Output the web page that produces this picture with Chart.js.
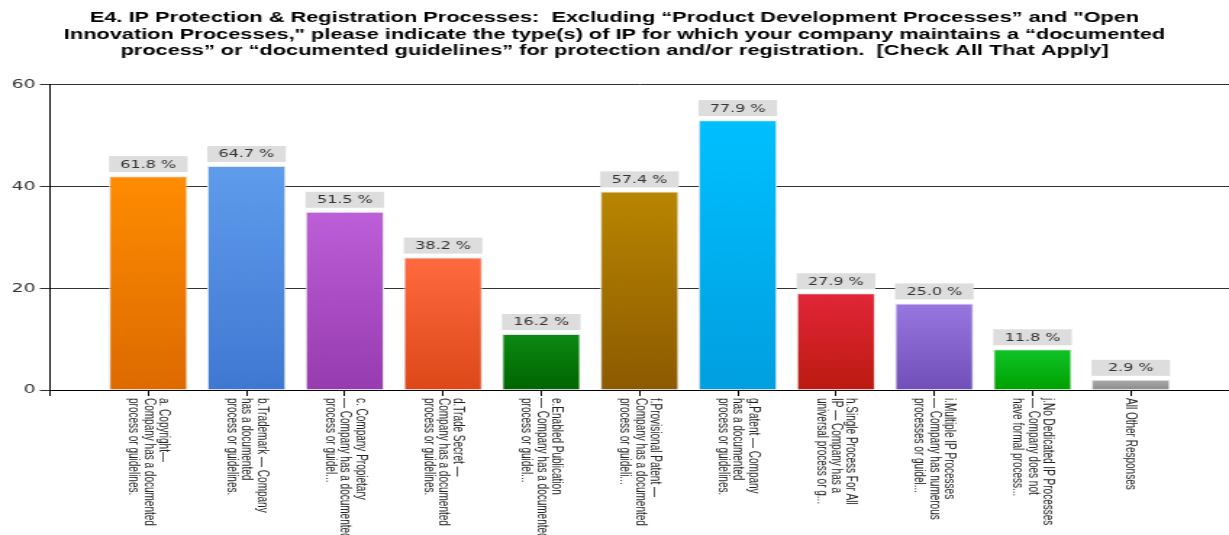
<!DOCTYPE html>
<html lang="en">
<head>
    <meta charset="UTF-8" />
    <title>E4. IP Protection &amp; Registration Processes</title>
    <script src="https://cdn.jsdelivr.net/npm/chart.js"></script>
    <style>
        html, body {
            margin: 0;
            padding: 0;
            background: #ffffff;
            overflow: hidden;
        }
        /* chart is laid out narrow, then widened to fill the page */
        #chart-container {
            width: 848px;
            height: 535px;
            position: relative;
            transform: scaleX(1.4493);
            transform-origin: 0 0;
        }
    </style>
</head>
<body>

<div id="chart-container">
    <canvas id="ipChart"></canvas>
</div>

<script>
// Survey question text (three lines, as shown above the plot)
const titleLines = [
    'E4. IP Protection & Registration Processes:  Excluding \u201cProduct Development Processes\u201d and "Open',
    'Innovation Processes," please indicate the type(s) of IP for which your company maintains a \u201cdocumented',
    'process\u201d or \u201cdocumented guidelines\u201d for protection and/or registration.  [Check All That Apply]'
];

// Answer options (each entry is the wrapped label lines)
const categories = [
    ['a. Copyright\u2014', 'Company has a documented', 'process or guidelines.'],
    ['b.Trademark \u2014 Company', 'has a documented', 'process or guidelines.'],
    ['c. Company Propietary', '\u2014 Company has a documented', 'process or guidel...'],
    ['d.Trade Secret \u2014', 'Company has a documented', 'process or guidelines.'],
    ['e.Enabled Publication', '\u2014 Company has a documented', 'process or guidel...'],
    ['f.Provisional Patent \u2014', 'Company has a documented', 'process or guideli...'],
    ['g.Patent \u2014 Company', 'has a documented', 'process or guidelines.'],
    ['h.Single Process For All', 'IP \u2014 Company has a', 'universal process or g...'],
    ['i.Multiple IP Processes', '\u2014 Company has numerous', 'processes or guidel...'],
    ['j.No Dedicated IP Processes', '\u2014 Company does not', 'have formal process...'],
    ['All Other Responses']
];

// Number of respondents choosing each option
const counts = [42, 44, 35, 26, 11, 39, 53, 19, 17, 8, 2];
const respondents = 68;

// Bar gradients: [top colour, bottom colour]
const barColors = [
    ['#ff8c00', '#dc6a00'],
    ['#5f9cec', '#3f78d2'],
    ['#bd5fd8', '#973bb0'],
    ['#ff6a40', '#dc4818'],
    ['#0c8a14', '#006400'],
    ['#b98600', '#8c5a00'],
    ['#00c0ff', '#009fe0'],
    ['#e22638', '#bc1a10'],
    ['#9878e0', '#7050b8'],
    ['#10c428', '#00a000'],
    ['#ababab', '#8c8c8c']
];

const yTicks = [0, 20, 40, 60];

const wideFont = '"DejaVu Sans", Verdana, sans-serif';
const plainFont = 'Arial, "Liberation Sans", sans-serif';

// Percent labels above each bar, in grey boxes
const valueBoxes = {
    id: 'valueBoxes',
    afterDatasetsDraw(chart) {
        const ctx = chart.ctx;
        const meta = chart.getDatasetMeta(0);
        ctx.save();
        ctx.font = '11px ' + wideFont;
        ctx.textAlign = 'center';
        ctx.textBaseline = 'middle';
        meta.data.forEach((bar, i) => {
            const w = bar.width;
            const top = bar.y - 20;
            ctx.fillStyle = '#dddddd';
            ctx.fillRect(bar.x - w / 2, top, w, 16);
            ctx.fillStyle = '#333333';
            const pct = (counts[i] / respondents * 100).toFixed(1) + ' %';
            ctx.fillText(pct, bar.x, top + 8.5);
        });
        ctx.restore();
    }
};

// Category labels under the axis, turned to read downwards
const categoryLabels = {
    id: 'categoryLabels',
    afterDraw(chart) {
        const ctx = chart.ctx;
        const xScale = chart.scales.x;
        const lineHeight = 10.4;
        ctx.save();
        ctx.font = '10px ' + plainFont;
        ctx.fillStyle = '#222222';
        ctx.textAlign = 'left';
        ctx.textBaseline = 'middle';
        categories.forEach((lines, i) => {
            const x = xScale.getPixelForValue(i + 1);
            ctx.save();
            ctx.translate(x, chart.chartArea.bottom + 8);
            ctx.rotate(Math.PI / 2);
            lines.forEach((line, j) => {
                ctx.fillText(line, 0, (j - (lines.length - 1) / 2) * lineHeight);
            });
            ctx.restore();
        });
        ctx.restore();
    }
};

const ctx = document.getElementById('ipChart').getContext('2d');
const chart = new Chart(ctx, {
    type: 'bar',
    data: {
        datasets: [{
            data: counts.map((c, i) => ({ x: i + 1, y: c })),
            backgroundColor: (context) => {
                const chartRef = context.chart;
                const area = chartRef.chartArea;
                const colors = barColors[context.dataIndex];
                if (!area || !chartRef.scales.y) return colors[0];
                const yScale = chartRef.scales.y;
                const top = yScale.getPixelForValue(counts[context.dataIndex]);
                const bottom = yScale.getPixelForValue(0);
                const g = chartRef.ctx.createLinearGradient(0, top, 0, bottom);
                g.addColorStop(0, colors[0]);
                g.addColorStop(1, colors[1]);
                return g;
            },
            borderColor: '#e4e4e4',
            borderWidth: 1,
            barPercentage: 0.8,
            categoryPercentage: 1.0
        }]
    },
    options: {
        responsive: true,
        maintainAspectRatio: false,
        animation: false,
        layout: {
            padding: { left: 0, right: 0, top: 0, bottom: 139 }
        },
        plugins: {
            legend: { display: false },
            tooltip: { enabled: false },
            title: {
                display: true,
                text: titleLines,
                color: '#000000',
                font: { family: plainFont, size: 15, weight: 'bold', lineHeight: 1.1 },
                padding: { top: 10, bottom: 25 }
            }
        },
        scales: {
            x: {
                type: 'linear',
                offset: false,
                min: 0,
                max: 12,
                afterBuildTicks: (scale) => {
                    scale.ticks = [{ value: 0 }].concat(categories.map((c, i) => ({ value: i + 1 })));
                },
                ticks: { display: false },
                grid: {
                    offset: false,
                    drawOnChartArea: false,
                    drawTicks: true,
                    tickLength: 6,
                    color: '#000000'
                },
                border: { display: true, color: '#000000', width: 1 }
            },
            y: {
                min: 0,
                max: 60,
                afterBuildTicks: (scale) => {
                    scale.ticks = yTicks.map(v => ({ value: v }));
                },
                afterFit: (scale) => { scale.width = 34.5; },
                ticks: {
                    color: '#333333',
                    padding: 3,
                    font: { family: wideFont, size: 13 }
                },
                grid: {
                    color: '#333333',
                    lineWidth: 1,
                    tickLength: 7
                },
                border: { display: true, color: '#000000', width: 1 }
            }
        }
    },
    plugins: [valueBoxes, categoryLabels]
});
</script>

</body>
</html>
